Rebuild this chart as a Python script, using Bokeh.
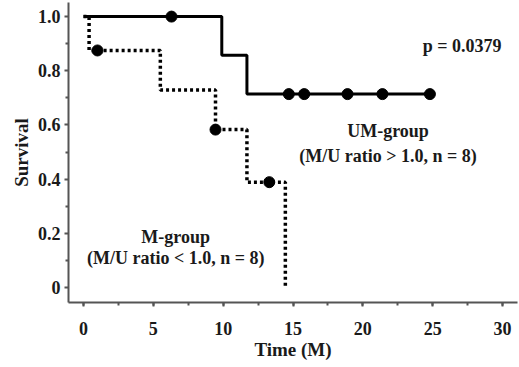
from bokeh.plotting import figure
from bokeh.models import Range1d, FixedTicker
from bokeh.core.properties import value
from bokeh.embed import file_html
from bokeh.resources import INLINE

# UM-group (solid)
um_times = [0, 9.9, 11.7, 24.8]
um_surv = [1.0, 0.857, 0.714, 0.714]
um_cens_t = [6.3, 14.7, 15.8, 18.9, 21.4, 24.8]
um_cens_s = [1.0, 0.714, 0.714, 0.714, 0.714, 0.714]

# M-group (dotted)
m_times = [0, 0.4, 5.5, 9.45, 11.7, 14.45]
m_surv = [1.0, 0.875, 0.729, 0.583, 0.389, 0.0]
m_cens_t = [1.0, 9.45, 13.3]
m_cens_s = [0.875, 0.583, 0.389]

x_ticks = [0, 5, 10, 15, 20, 25, 30]
y_ticks = [0, 0.2, 0.4, 0.6, 0.8, 1.0]
y_labels = ["0", "0.2", "0.4", "0.6", "0.8", "1.0"]

FONT = "Liberation Serif"

p = figure(width=519, height=367, output_backend="svg", toolbar_location=None,
           x_range=Range1d(-1.074, 31.07), y_range=Range1d(-0.055, 1.052),
           min_border_left=68, min_border_right=2, min_border_top=2, min_border_bottom=65)
p.outline_line_color = None
p.xgrid.visible = False
p.ygrid.visible = False
p.background_fill_color = "white"

p.step(m_times, m_surv, mode="after", line_color="black", line_width=3.5,
       line_dash="3 3")
p.step(um_times, um_surv, mode="after", line_color="black", line_width=3)
p.scatter(um_cens_t, um_cens_s, size=11, color="black")
p.scatter(m_cens_t, m_cens_s, size=11, color="black")

p.xaxis.ticker = FixedTicker(ticks=x_ticks, minor_ticks=[v / 2 for v in range(0, 62, 5)])
p.yaxis.ticker = FixedTicker(ticks=y_ticks, minor_ticks=[0.1, 0.3, 0.5, 0.7, 0.9])
p.yaxis.major_label_overrides = {t: l for t, l in zip(y_ticks, y_labels)}

for ax in (p.xaxis, p.yaxis):
    ax.axis_line_width = 2
    ax.axis_line_color = "#555555"
    ax.major_tick_line_color = "#555555"
    ax.minor_tick_line_color = "#555555"
    ax.major_tick_line_width = 2
    ax.minor_tick_line_width = 2
    ax.major_tick_out = 4
    ax.major_tick_in = 0
    ax.minor_tick_out = 3
    ax.minor_tick_in = 0
    ax.major_label_text_font = FONT
    ax.major_label_text_font_style = "bold"
    ax.major_label_text_font_size = "18px"
    ax.major_label_text_color = "#1a1a1a"
    ax.axis_label_text_font = FONT
    ax.axis_label_text_font_style = "bold"
    ax.axis_label_text_font_size = "19px"
    ax.axis_label_text_color = "#1a1a1a"

p.xaxis.axis_label = "Time (M)"
p.yaxis.axis_label = "Survival"
p.xaxis.major_label_standoff = 15
p.xaxis.axis_label_standoff = 1
p.yaxis.major_label_standoff = 4
p.yaxis.axis_label_standoff = 3

TS = "18px"
p.text(x=[27.1], y=[0.893], text=["p = 0.0379"], text_font=value(FONT),
       text_font_style="bold", text_font_size=TS, text_align="center",
       text_baseline="middle", text_color="#1a1a1a")
p.text(x=[21.8, 21.8], y=[0.579, 0.487],
       text=["UM-group", "(M/U ratio > 1.0, n = 8)"], text_font=value(FONT),
       text_font_style="bold", text_font_size=TS, text_align="center",
       text_baseline="middle", text_color="#1a1a1a")
p.text(x=[6.6, 6.6], y=[0.185, 0.111],
       text=["M-group", "(M/U ratio < 1.0, n = 8)"], text_font=value(FONT),
       text_font_style="bold", text_font_size=TS, text_align="center",
       text_baseline="middle", text_color="#1a1a1a")

open("out.html", "w").write(file_html(p, INLINE))
